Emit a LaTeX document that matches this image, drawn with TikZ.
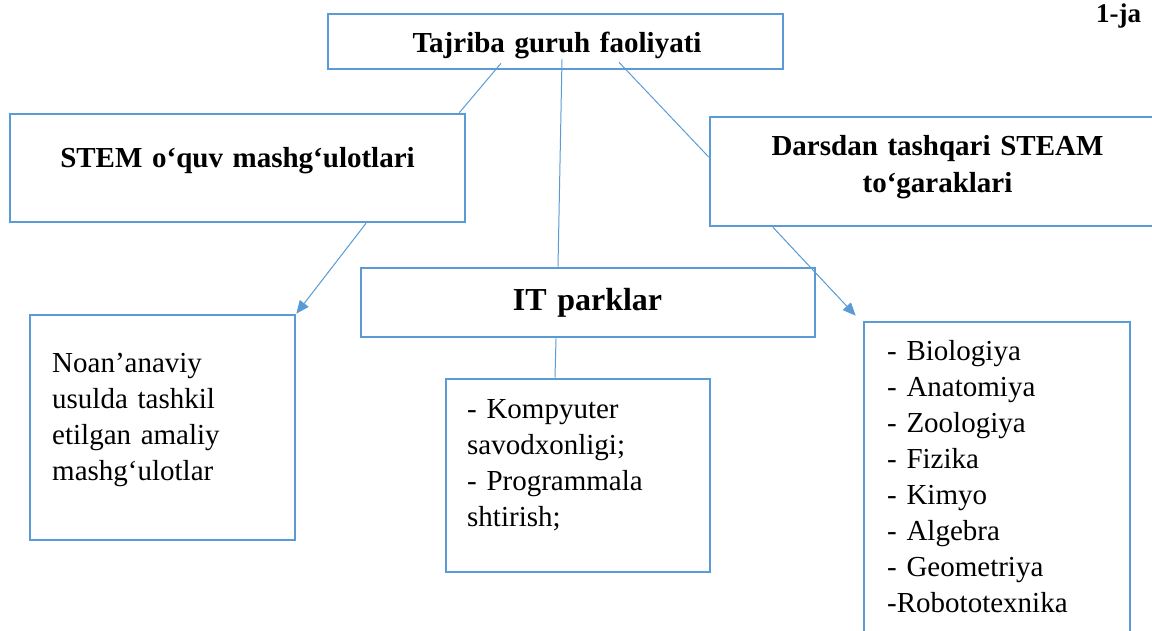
\documentclass[tikz,border=0pt]{standalone}
\usepackage{fontspec}
\setmainfont{Liberation Serif}
\usepackage{tikz}
\usetikzlibrary{
  arrows.meta,
  calc,
  positioning
}
\definecolor{wordblue}{HTML}{5B9BD5}
\tikzset{>={Triangle[length=13pt,width=11pt]}}
\tikzset{box/.style={draw=wordblue, line width=2.6pt, inner sep=0pt}}
\tikzset{headtext/.style={font=\fontsize{29}{37}\selectfont\bfseries,
    inner sep=0pt, anchor=base, align=center, text width=440pt}}
\tikzset{listtext/.style={font=\fontsize{29}{36}\selectfont,
    inner sep=0pt, anchor=base west, align=left, text width=230pt}}
\tikzset{link/.style={draw=wordblue, line width=1pt}}

\begin{document}
\begin{tikzpicture}[x=1pt,y=-1pt]
  \clip (0,0) rectangle (1152,630);
  % boxes
  \node[box, minimum width=455pt, minimum height=55pt] (guruh) at (555.5,41.5) {};
  \node[box, minimum width=455pt, minimum height=108pt] (stem) at (237.5,168) {};
  \node[box, minimum width=455pt, minimum height=109pt] (darsdan) at (937.5,171.5) {};
  \node[box, minimum width=454pt, minimum height=69pt] (it) at (588,302.5) {};
  \node[box, minimum width=265pt, minimum height=225pt] (noan) at (162.5,427.5) {};
  \node[box, minimum width=264pt, minimum height=193pt] (itlist) at (578,475.5) {};
  \node[box, minimum width=266pt, minimum height=328pt] (bio) at (997,486) {};
  % texts
  \node[headtext] (guruh-t) at (557,52) {Tajriba guruh faoliyati};
  \node[headtext] (stem-t) at (237.5,167) {STEM o‘quv mashg‘ulotlari};
  \node[headtext] (darsdan-t) at (937.5,155) {Darsdan tashqari STEAM\\to‘garaklari};
  \node[headtext, font=\fontsize{32}{38}\selectfont\bfseries] (it-t) at (587.5,310) {IT parklar};
  \node[font=\fontsize{27}{37}\selectfont\bfseries, inner sep=0pt, anchor=base west]
    (page-t) at (1096,22) {1-ja};
  \node[listtext] (noan-t) at (52,372) {Noan’anaviy\\usulda tashkil\\etilgan amaliy\\mashg‘ulotlar};
  \node[listtext] (itlist-t) at (467,418) {- Kompyuter\\savodxonligi;\\- Programmala\\shtirish;};
  \node[listtext, font=\fontsize{29}{36.1}\selectfont] (bio-t) at (887,360)
    {- Biologiya\\- Anatomiya\\- Zoologiya\\- Fizika\\- Kimyo\\- Algebra\\- Geometriya\\-Robototexnika};
  % connectors
  \draw[link] ([shift={(-54.5,-7)}]guruh.south) -- ([xshift=-7pt]stem.north east);
  \draw[link] ([shift={(6.5,-11)}]guruh.south) -- ([xshift=-30pt]it.north);
  \draw[link] ([shift={(63.5,-8)}]guruh.south) -- ([yshift=14.5pt]darsdan.west);
  \draw[link] ([xshift=-32pt]it.south) -- ([xshift=-23pt]itlist.north);
  \draw[link, ->, fill=wordblue] ([xshift=128.5pt]stem.south) -- (noan.north east);
  \draw[link, ->, fill=wordblue] ([xshift=-164.5pt]darsdan.south) -- ([shift={(-7,-5)}]bio.north west);
\end{tikzpicture}
\end{document}
